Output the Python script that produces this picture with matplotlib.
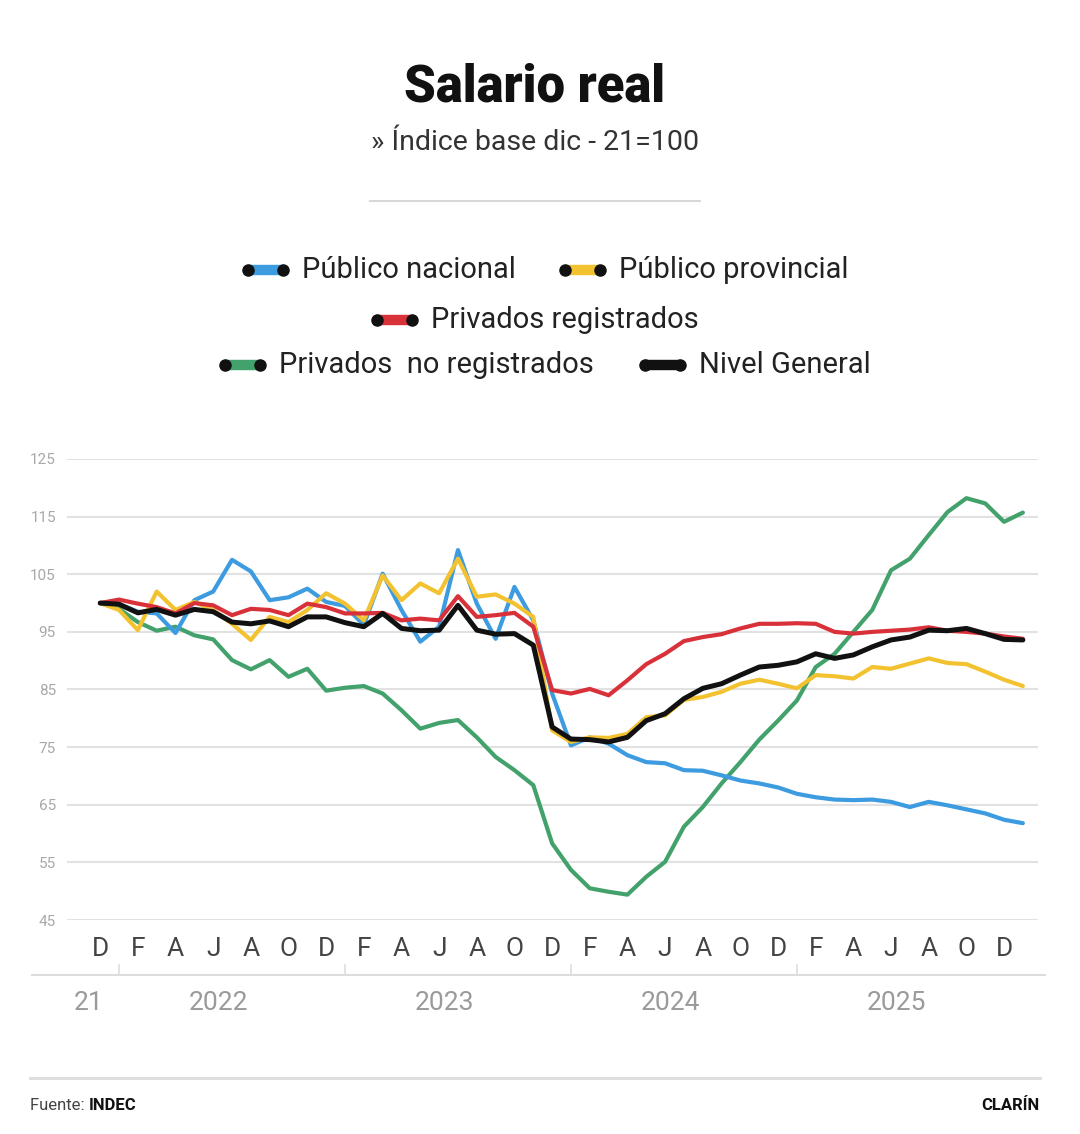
import matplotlib
matplotlib.use('Agg')
import matplotlib.pyplot as plt
from matplotlib.lines import Line2D

# months from Dec 2021 (index 0) to Jan 2026 (index 49)
months = list(range(50))

publico_nacional = [100, 99.8, 98.5, 98.2, 94.8, 100.5, 102.0, 107.5, 105.5, 100.5,
                    101.0, 102.5, 100.2, 99.5, 96.2, 105.1, 98.8, 93.3, 95.9, 109.2,
                    99.9, 93.8, 102.8, 97.0, 84.3, 75.3, 76.7, 75.6, 73.6, 72.4,
                    72.2, 71.0, 70.9, 70.1, 69.2, 68.7, 68.0, 66.9, 66.3, 65.9,
                    65.8, 65.9, 65.5, 64.6, 65.5, 64.9, 64.2, 63.5, 62.4, 61.8]
publico_provincial = [100, 98.8, 95.3, 102.0, 98.8, 100.2, 98.8, 96.4, 93.6, 97.6,
                      96.7, 98.8, 101.7, 99.9, 97.0, 104.8, 100.5, 103.4, 101.7, 107.7,
                      101.1, 101.5, 99.9, 97.6, 77.9, 75.9, 76.7, 76.6, 77.3, 80.2,
                      80.5, 83.2, 83.7, 84.6, 86.0, 86.7, 86.0, 85.2, 87.5, 87.3,
                      86.9, 88.9, 88.6, 89.5, 90.4, 89.6, 89.4, 88.1, 86.7, 85.6]
privados_registrados = [100, 100.6, 99.9, 99.3, 98.2, 100.0, 99.6, 97.9, 99.0, 98.8,
                        97.9, 99.9, 99.3, 98.2, 98.2, 98.3, 97.0, 97.3, 97.0, 101.2,
                        97.6, 97.9, 98.3, 95.9, 84.9, 84.3, 85.1, 84.0, 86.6, 89.4,
                        91.2, 93.4, 94.1, 94.6, 95.6, 96.4, 96.4, 96.5, 96.4, 95.0,
                        94.7, 95.0, 95.2, 95.4, 95.8, 95.2, 95.0, 94.7, 94.2, 93.8]
privados_no_registrados = [100, 99.0, 96.7, 95.2, 95.9, 94.4, 93.7, 90.1, 88.5, 90.1,
                           87.2, 88.6, 84.8, 85.3, 85.6, 84.3, 81.4, 78.2, 79.2, 79.7,
                           76.7, 73.3, 71.0, 68.4, 58.3, 53.7, 50.5, 49.9, 49.4, 52.5,
                           55.1, 61.2, 64.6, 68.7, 72.4, 76.3, 79.6, 83.1, 88.9, 91.2,
                           95.0, 98.8, 105.7, 107.7, 111.8, 115.8, 118.2, 117.3, 114.1, 115.7]
nivel_general = [100, 99.8, 98.3, 98.9, 97.9, 98.9, 98.5, 96.7, 96.4, 96.9,
                 95.9, 97.6, 97.6, 96.6, 95.9, 98.2, 95.6, 95.2, 95.3, 99.6,
                 95.3, 94.6, 94.7, 92.7, 78.5, 76.4, 76.3, 75.9, 76.7, 79.6,
                 80.8, 83.4, 85.2, 86.0, 87.5, 88.9, 89.2, 89.8, 91.2, 90.4,
                 91.0, 92.4, 93.6, 94.1, 95.3, 95.2, 95.6, 94.7, 93.7, 93.6]

month_ticks = list(range(0, 49, 2))
month_labels = ['D', 'F', 'A', 'J', 'A', 'O'] * 4 + ['D']
year_pos = [-0.6, 6.3, 18.3, 30.3, 42.3]
year_labels = ['21', '2022', '2023', '2024', '2025']
year_marks = [1, 13, 25, 37]
y_ticks = [45, 55, 65, 75, 85, 95, 105, 115, 125]

BLUE = '#3d9be0'
YELLOW = '#f3c230'
RED = '#d93139'
GREEN = '#43a26c'
BLACK = '#111111'

series = [
    (privados_no_registrados, GREEN, 3.0),
    (publico_nacional, BLUE, 3.0),
    (publico_provincial, YELLOW, 3.0),
    (privados_registrados, RED, 3.0),
    (nivel_general, BLACK, 3.6),
]

plt.rcParams['font.family'] = ['Roboto', 'DejaVu Sans']

W, H = 1080, 1134
fig = plt.figure(figsize=(W / 100, H / 100), dpi=100)


def fx(px):
    return px / W


def fy(py):
    return 1 - py / H


# title block
fig.text(fx(535), fy(87), 'Salario real', fontsize=36.5, fontweight='black',
         ha='center', va='center', color='#111111')
fig.text(fx(535), fy(142), '» Índice base dic - 21=100', fontsize=20.5,
         ha='center', va='center', color='#333333')
fig.add_artist(Line2D([fx(370), fx(700)], [fy(201), fy(201)], color='#d8d8d8', lw=1.5))

# legend
legend_items = [
    (243, 270, BLUE, 'Público nacional'),
    (560, 270, YELLOW, 'Público provincial'),
    (372, 320, RED, 'Privados registrados'),
    (220, 365, GREEN, 'Privados  no registrados'),
    (640, 365, BLACK, 'Nivel General'),
]
for x0, y0, col, name in legend_items:
    fig.add_artist(Line2D([fx(x0 + 5), fx(x0 + 40)], [fy(y0), fy(y0)], color=col,
                          lw=7.5, solid_capstyle='round'))
    fig.add_artist(Line2D([fx(x0 + 5), fx(x0 + 40)], [fy(y0), fy(y0)], color='#111111',
                          lw=0, marker='o', markersize=8))
    fig.text(fx(x0 + 59), fy(y0), name, fontsize=21, ha='left', va='center',
             color='#222222')

# chart area
ax_left, ax_right, ax_top, ax_bottom = 67, 1038, 459, 920
ax = fig.add_axes([fx(ax_left), fy(ax_bottom), (ax_right - ax_left) / W,
                   (ax_bottom - ax_top) / H])
for vals, col, lw in series:
    ax.plot(months, vals, color=col, lw=lw, solid_joinstyle='round',
            solid_capstyle='round', zorder=3)

ax.set_ylim(45, 125)
px_per_month = 18.83
ax.set_xlim(-(100.2 - ax_left) / px_per_month, (ax_right - 100.2) / px_per_month)
ax.set_yticks(y_ticks)
ax.set_yticklabels([str(v) for v in y_ticks], fontsize=11, color='#a8a8a8')
ax.grid(axis='y', color='#e2e2e2', lw=1.5)
ax.set_axisbelow(True)
for s in ax.spines.values():
    s.set_visible(False)
ax.tick_params(axis='y', length=0, pad=8)

ax.set_xticks(month_ticks)
ax.set_xticklabels(month_labels, fontsize=19, color='#444444')
ax.tick_params(axis='x', length=0, pad=21)
for lab in ax.get_xticklabels():
    lab.set_va('center')

ax_h = ax_bottom - ax_top
trans = ax.get_xaxis_transform()
for xp, lab in zip(year_pos, year_labels):
    ax.text(xp, (ax_bottom - 1003) / ax_h, lab, transform=trans, fontsize=19,
            color='#9a9a9a', ha='center', va='center')

# axis separator and year ticks
sep_y = (ax_bottom - 975) / ax_h
x_start = -(100.2 - 32) / px_per_month
x_end = (1045 - 100.2) / px_per_month
ax.plot([x_start, x_end], [sep_y, sep_y], transform=trans, color='#dddddd',
        lw=1.5, clip_on=False)
for xm in year_marks:
    ax.plot([xm, xm], [sep_y, (ax_bottom - 965) / ax_h], transform=trans,
            color='#dddddd', lw=1.2, clip_on=False)

# footer
fig.add_artist(Line2D([fx(30), fx(1040)], [fy(1078), fy(1078)], color='#dcdcdc', lw=2))
t = fig.text(fx(30), fy(1105), 'Fuente: ', fontsize=12, ha='left', va='center',
             color='#444444')
fig.canvas.draw()
bb = t.get_window_extent()
fig.text(bb.x1 / W, fy(1105), 'INDEC', fontsize=12, fontweight='bold', ha='left',
         va='center', color='#111111')
fig.text(fx(1040), fy(1105), 'CLARÍN', fontsize=12, fontweight='bold', ha='right',
         va='center', color='#111111')

fig.savefig('out.png', dpi=100, facecolor='white')
